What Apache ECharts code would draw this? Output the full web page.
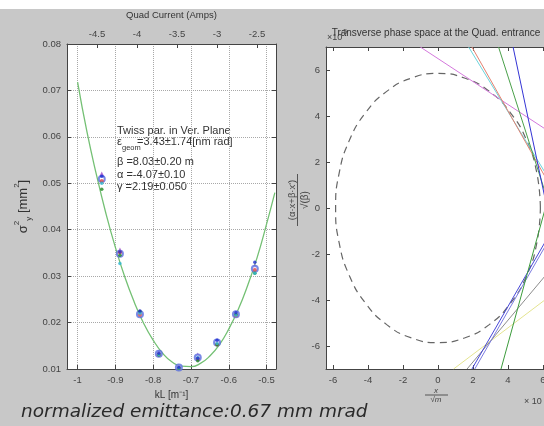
<!DOCTYPE html>
<html>
<head>
<meta charset="utf-8">
<script src="https://cdn.jsdelivr.net/npm/echarts@6/dist/echarts.min.js"></script>
<style>
  html, body { margin: 0; padding: 0; background: #fff; }
  #main { width: 544px; height: 426px; }
</style>
</head>
<body>
<div id="main"></div>
<script>
// quad scan: kL settings and measured sigma^2 (mm^2), several shots each
const kL = [-0.936, -0.888, -0.835, -0.785, -0.732, -0.682, -0.631, -0.581, -0.531];
const shotCircle = [0.0509, 0.0348, 0.0218, 0.0133, 0.0103, 0.0125, 0.0157, 0.0218, 0.0316];
const shotTri    = [0.0519, 0.0355, 0.0222, 0.0135, 0.0105, 0.0129, 0.0160, 0.0220, 0.0320];
const shotRed    = [0.0505, 0.0351, 0.0217, 0.0132, 0.0102, 0.0122, 0.0153, 0.0215, 0.0313];
const shotGreen  = [0.0487, 0.0345, 0.0224, 0.0130, 0.0101, 0.0118, 0.0152, 0.0218, 0.0306];
const shotCyan   = [0.0500, 0.0327, 0.0220, 0.0131, 0.0102, 0.0124, 0.0155, 0.0216, 0.0306];
const shotBlue   = [0.0515, 0.0352, 0.0225, 0.0134, 0.0104, 0.0123, 0.0162, 0.0221, 0.0330];

// fitted parabola
const fitK   = [-1.0, -0.975, -0.95, -0.925, -0.9, -0.875, -0.85, -0.825, -0.8, -0.775, -0.75, -0.725, -0.7, -0.675, -0.65, -0.625, -0.6, -0.575, -0.55, -0.525, -0.5, -0.478];
const fitSig = [0.0718, 0.0610, 0.0518, 0.0435, 0.0362, 0.0298, 0.0244, 0.0198, 0.0162, 0.0134, 0.0115, 0.0106, 0.0105, 0.0112, 0.0128, 0.0152, 0.0186, 0.0228, 0.0280, 0.0340, 0.0412, 0.0480];

const kTicks = [-1, -0.9, -0.8, -0.7, -0.6, -0.5];
const ampTicks = [-4.5, -4, -3.5, -3, -2.5];
const phaseTicks = [-6, -4, -2, 0, 2, 4, 6];

// phase space: dashed beam ellipse (normalised coords)
const ellX = [5.85, 5.65, 5.07, 4.14, 2.93, 1.51, 0, -1.51, -2.93, -4.14, -5.07, -5.65, -5.85, -5.65, -5.07, -4.14, -2.93, -1.51, 0, 1.51, 2.93, 4.14, 5.07, 5.65, 5.85];
const ellY = [0, 1.51, 2.93, 4.14, 5.07, 5.65, 5.85, 5.65, 5.07, 4.14, 2.93, 1.51, 0, -1.51, -2.93, -4.14, -5.07, -5.65, -5.85, -5.65, -5.07, -4.14, -2.93, -1.51, 0];

// one straight line per quad setting: [x1, y1, x2, y2]
const phaseLines = [
    { color: '#d478dc', seg: [-1.01, 7, 6.4, 3.3] },
    { color: '#6cd4dc', seg: [1.75, 7, 6.4, 1.19] },
    { color: '#e48070', seg: [1.94, 7, 6.4, 0.98] },
    { color: '#4aa04a', seg: [3.46, 7, 6.4, 0.03] },
    { color: '#3434d4', seg: [4.29, 7, 6.4, -0.6] },
    { color: '#e4e490', seg: [0.89, -7, 6.4, -3.83] },
    { color: '#8c8c8c', seg: [1.66, -7, 6.4, -2.7] },
    { color: '#4646d8', seg: [1.94, -7, 6.4, -1.11] },
    { color: '#7a7ae0', seg: [2.1, -7, 6.4, -1.3] },
    { color: '#3c9c3c', seg: [3.6, -7, 6.4, 0.73] }
];

const pairs = (xs, ys) => xs.map((x, i) => [x, ys[i]]);
const axisCol = '#444';
const lblStyle = { color: '#444', fontSize: 9.5, fontFamily: 'Liberation Sans' };

const chart = echarts.init(document.getElementById('main'));

const scatter = (name, data, symbol, size, color, extra) => Object.assign({
    name: name,
    type: 'scatter',
    xAxisIndex: 0,
    yAxisIndex: 0,
    data: pairs(kL, data),
    symbol: symbol,
    symbolSize: size,
    itemStyle: { color: color },
    z: 3
}, extra || {});

const series = [
    {
        type: 'line',
        xAxisIndex: 0,
        yAxisIndex: 0,
        data: pairs(fitK, fitSig),
        smooth: true,
        showSymbol: false,
        lineStyle: { color: '#74c074', width: 1.3 },
        z: 2
    },
    scatter('tri', shotTri, 'triangle', 6, '#a04cc8'),
    scatter('circle', shotCircle, 'emptyCircle', 6, '#5a6ee0', { itemStyle: { color: '#5a6ee0', borderWidth: 1.5 } }),
    scatter('red', shotRed, 'circle', 4, '#e04848'),
    scatter('green', shotGreen, 'circle', 3.5, '#228822'),
    scatter('cyan', shotCyan, 'circle', 3.5, '#30b8d4'),
    scatter('blue', shotBlue, 'circle', 3.5, '#2030d0'),
    {
        type: 'line',
        xAxisIndex: 2,
        yAxisIndex: 2,
        data: pairs(ellX, ellY),
        smooth: true,
        showSymbol: false,
        lineStyle: { color: '#666', width: 1.2, type: [7, 5] }
    }
];

phaseLines.forEach(l => {
    series.push({
        type: 'line',
        xAxisIndex: 2,
        yAxisIndex: 2,
        data: [[l.seg[0], l.seg[1]], [l.seg[2], l.seg[3]]],
        showSymbol: false,
        clip: true,
        lineStyle: { color: l.color, width: 1 }
    });
});

const baseAxis = (extra) => Object.assign({
    type: 'value',
    axisLine: { show: true, onZero: false, lineStyle: { color: axisCol, width: 1 } },
    axisTick: { show: true, inside: true, length: 4, lineStyle: { color: axisCol } },
    axisLabel: Object.assign({ margin: 6 }, lblStyle),
    splitLine: { show: false }
}, extra);

const option = {
    backgroundColor: '#c8c8c8',
    animation: false,
    grid: [
        { left: 67, top: 44, width: 209, height: 325, show: true, backgroundColor: '#fff', borderWidth: 0, outerBoundsMode: 'none' },
        { left: 326, top: 47, width: 224, height: 322, show: true, backgroundColor: '#fff', borderWidth: 0, outerBoundsMode: 'none' }
    ],
    xAxis: [
        baseAxis({
            gridIndex: 0, position: 'bottom', min: -1.028, max: -0.475,
            axisTick: { inside: true, length: 4, customValues: kTicks, lineStyle: { color: axisCol } },
            axisLabel: Object.assign({ margin: 6, customValues: kTicks, formatter: v => String(v) }, lblStyle),
            splitLine: { show: true, lineStyle: { type: 'dotted', color: '#a8a8a8' } },
            name: 'kL [m⁻¹]', nameLocation: 'middle', nameGap: 20,
            nameTextStyle: { color: '#333', fontSize: 10, fontFamily: 'Liberation Sans' }
        }),
        baseAxis({
            gridIndex: 0, position: 'top', min: -4.875, max: -2.2625,
            axisTick: { inside: true, length: 4, customValues: ampTicks, lineStyle: { color: axisCol } },
            axisLabel: Object.assign({ margin: 5, customValues: ampTicks, formatter: v => String(v) }, lblStyle),
            name: 'Quad Current (Amps)', nameLocation: 'middle', nameGap: 24,
            nameTextStyle: { color: '#333', fontSize: 9.5, fontFamily: 'Liberation Sans' }
        }),
        baseAxis({
            gridIndex: 1, position: 'bottom', min: -6.4, max: 6.4,
            axisTick: { inside: true, length: 4, customValues: phaseTicks, lineStyle: { color: axisCol } },
            axisLabel: Object.assign({ margin: 6, customValues: phaseTicks }, lblStyle)
        }),
        baseAxis({
            gridIndex: 1, position: 'top', min: -6.4, max: 6.4,
            axisTick: { inside: true, length: 4, customValues: phaseTicks, lineStyle: { color: axisCol } },
            axisLabel: { show: false }
        })
    ],
    yAxis: [
        baseAxis({
            gridIndex: 0, position: 'left', min: 0.01, max: 0.08, interval: 0.01,
            axisLabel: Object.assign({ margin: 6, formatter: v => v.toFixed(2) }, lblStyle),
            splitLine: { show: true, lineStyle: { type: 'dotted', color: '#a8a8a8' } },
            name: '{a|σ}{s|2}{b|y}{a| [mm}{s|2}{a|]}', nameLocation: 'middle', nameGap: 34,
            nameTextStyle: {
                color: '#333',
                rich: {
                    a: { fontSize: 13, fontFamily: 'Liberation Sans', color: '#333', lineHeight: 20 },
                    s: { fontSize: 8, fontFamily: 'Liberation Sans', color: '#333', lineHeight: 20, verticalAlign: 'top' },
                    b: { fontSize: 8, fontFamily: 'Liberation Sans', color: '#333', lineHeight: 20, verticalAlign: 'bottom' }
                }
            }
        }),
        baseAxis({
            gridIndex: 0, position: 'right', min: 0.01, max: 0.08, interval: 0.01,
            axisLabel: { show: false }
        }),
        baseAxis({
            gridIndex: 1, position: 'left', min: -7, max: 7,
            axisTick: { inside: true, length: 4, customValues: phaseTicks, lineStyle: { color: axisCol } },
            axisLabel: Object.assign({ margin: 6, customValues: phaseTicks }, lblStyle)
        })
    ],
    series: series,
    graphic: [
        { type: 'rect', silent: true, shape: { x: 0, y: 0, width: 544, height: 9 }, style: { fill: '#fff' } },
        // Twiss parameters box
        { type: 'text', x: 117, y: 131, style: { text: 'Twiss par. in Ver. Plane', fill: '#333', font: '11px "Liberation Sans"', verticalAlign: 'middle' } },
        { type: 'text', x: 117, y: 142, style: { text: 'ε', fill: '#333', font: '11px "Liberation Sans"', verticalAlign: 'middle' } },
        { type: 'text', x: 122, y: 148, style: { text: 'geom', fill: '#333', font: '7.5px "Liberation Sans"', verticalAlign: 'middle' } },
        { type: 'text', x: 137, y: 142, style: { text: '=3.43±1.74[nm rad]', fill: '#333', font: '11px "Liberation Sans"', verticalAlign: 'middle' } },
        { type: 'text', x: 117, y: 162, style: { text: 'β =8.03±0.20 m', fill: '#333', font: '11px "Liberation Sans"', verticalAlign: 'middle' } },
        { type: 'text', x: 117, y: 174.5, style: { text: 'α =-4.07±0.10', fill: '#333', font: '11px "Liberation Sans"', verticalAlign: 'middle' } },
        { type: 'text', x: 117, y: 187, style: { text: 'γ =2.19±0.050', fill: '#333', font: '11px "Liberation Sans"', verticalAlign: 'middle' } },
        // right panel texts
        { type: 'text', x: 436, y: 33, style: { text: 'Transverse phase space at the Quad. entrance', fill: '#333', font: '10px "Liberation Sans"', align: 'center', verticalAlign: 'middle' } },
        { type: 'text', x: 327, y: 38, style: { text: '×10', fill: '#444', font: '9px "Liberation Sans"', verticalAlign: 'middle' } },
        { type: 'text', x: 341, y: 32, style: { text: '-5', fill: '#444', font: '7px "Liberation Sans"', verticalAlign: 'middle' } },
        { type: 'text', x: 292, y: 200, rotation: Math.PI / 2, style: { text: "(α·x+β·x')", fill: '#444', font: '9.5px "Liberation Sans"', align: 'center', verticalAlign: 'middle' } },
        { type: 'rect', silent: true, shape: { x: 297, y: 174, width: 1, height: 52 }, style: { fill: '#555' } },
        { type: 'text', x: 305, y: 200, rotation: Math.PI / 2, style: { text: '√(β)', fill: '#444', font: '10px "Liberation Sans"', align: 'center', verticalAlign: 'middle' } },
        { type: 'text', x: 436, y: 391, style: { text: 'x', fill: '#444', font: 'italic 8px "Liberation Sans"', align: 'center', verticalAlign: 'middle' } },
        { type: 'rect', silent: true, shape: { x: 425, y: 394.5, width: 23, height: 1 }, style: { fill: '#555' } },
        { type: 'text', x: 436, y: 400, style: { text: '√m', fill: '#444', font: 'italic 8px "Liberation Sans"', align: 'center', verticalAlign: 'middle' } },
        { type: 'text', x: 524, y: 402, style: { text: '× 10', fill: '#444', font: '9px "Liberation Sans"', verticalAlign: 'middle' } },
        // bottom caption
        { type: 'text', x: 21, y: 412, style: { text: 'normalized emittance:0.67 mm mrad', fill: '#2a2a2a', font: 'italic 18.5px "DejaVu Sans"', verticalAlign: 'middle' } }
    ]
};

chart.setOption(option);
</script>
</body>
</html>
